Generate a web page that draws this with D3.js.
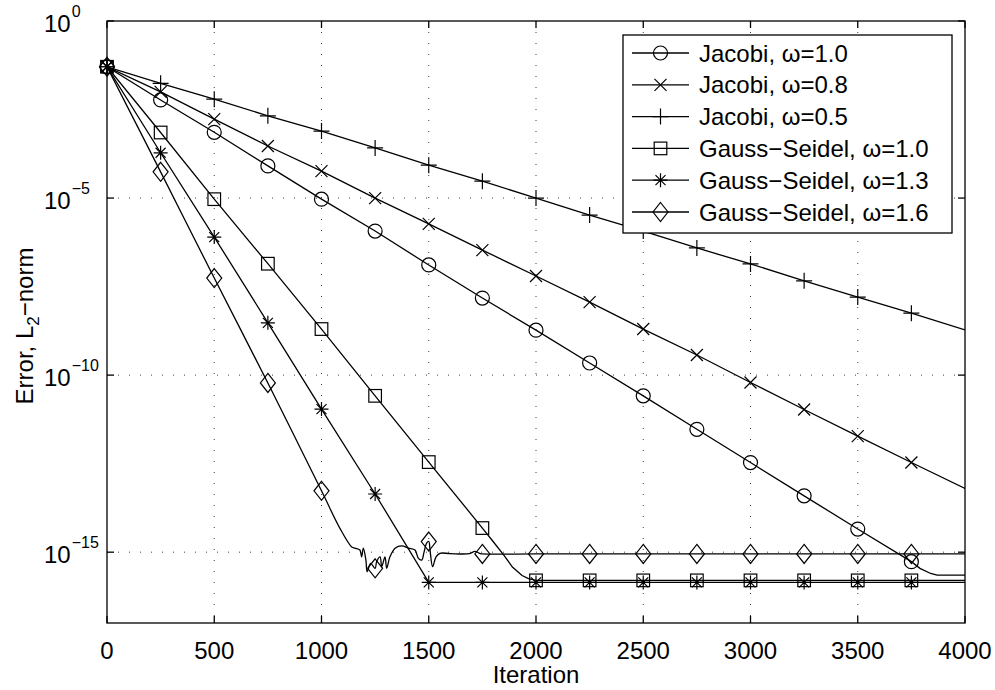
<!DOCTYPE html>
<html>
<head>
<meta charset="utf-8">
<script src="https://cdn.jsdelivr.net/npm/d3@7"></script>
<style>
  body { margin: 0; background: #fff; overflow: hidden; }
  svg { display: block; font-family: "Liberation Sans", Arial, Helvetica, sans-serif; }
</style>
</head>
<body>
<div id="chart"></div>
<script>
// ---- data: iteration number and L2 error of each run ----
const jacobi10It = [0, 250, 500, 750, 1000, 1250, 1500, 1750, 2000, 2250, 2500, 2750, 3000, 3250, 3500, 3750, 3790, 3840, 3870, 4000];
const jacobi10Err = [5.1e-2, 5.9e-3, 7.2e-4, 8.1e-5, 9.3e-6, 1.17e-6, 1.29e-7, 1.5e-8, 1.86e-9, 2.2e-10, 2.6e-11, 2.95e-12, 3.4e-13, 3.9e-14, 4.5e-15, 5.4e-16, 3.5e-16, 2.5e-16, 2.24e-16, 2.24e-16];

const jacobi08It = [0, 250, 500, 750, 1000, 1250, 1500, 1750, 2000, 2250, 2500, 2750, 3000, 3250, 3500, 3750, 4000];
const jacobi08Err = [5.1e-2, 1.0e-2, 1.7e-3, 2.95e-4, 5.75e-5, 1.0e-5, 1.86e-6, 3.4e-7, 6.3e-8, 1.15e-8, 2.0e-9, 3.7e-10, 6.2e-11, 1.07e-11, 1.9e-12, 3.4e-13, 6.3e-14];

const jacobi05It = [0, 250, 500, 750, 1000, 1250, 1500, 1750, 2000, 2250, 2500, 2750, 3000, 3250, 3500, 3750, 4000];
const jacobi05Err = [5.1e-2, 1.74e-2, 6.2e-3, 2.1e-3, 7.8e-4, 2.6e-4, 8.5e-5, 3.0e-5, 1.0e-5, 3.3e-6, 1.17e-6, 3.9e-7, 1.38e-7, 4.6e-8, 1.6e-8, 5.6e-9, 1.9e-9];

const gs10It = [0, 250, 500, 750, 1000, 1250, 1500, 1750, 1800, 1850, 1890, 1935, 1965, 2000, 2250, 2500, 2750, 3000, 3250, 3500, 3750, 4000];
const gs10Err = [5.1e-2, 7.1e-4, 9.3e-6, 1.4e-7, 2.0e-9, 2.6e-11, 3.5e-13, 4.8e-15, 2.0e-15, 8.3e-16, 3.8e-16, 2.2e-16, 1.8e-16, 1.6e-16, 1.6e-16, 1.6e-16, 1.6e-16, 1.6e-16, 1.6e-16, 1.6e-16, 1.6e-16, 1.6e-16];

const gs13It = [0, 250, 500, 750, 1000, 1250, 1500, 1750, 2000, 2250, 2500, 2750, 3000, 3250, 3500, 3750, 4000];
const gs13Err = [5.1e-2, 1.9e-4, 7.9e-7, 3.0e-9, 1.1e-11, 4.4e-14, 1.4e-16, 1.4e-16, 1.4e-16, 1.4e-16, 1.4e-16, 1.4e-16, 1.4e-16, 1.4e-16, 1.4e-16, 1.4e-16, 1.4e-16];

const gs16It = [0, 250, 500, 750, 1000, 1086, 1141, 1156, 1179, 1187, 1195, 1207, 1213, 1229, 1250, 1257, 1273, 1281, 1296, 1304, 1319, 1343, 1374, 1405, 1436, 1451, 1467, 1478, 1490, 1500, 1506, 1518, 1534, 1552, 1600, 1690, 1715, 1740, 1750, 2000, 2250, 2500, 2750, 3000, 3250, 3500, 3750, 4000];
const gs16Err = [5.1e-2, 5.5e-5, 5.5e-8, 6.0e-11, 5.4e-14, 4.7e-15, 1.4e-15, 1.3e-15, 1.15e-15, 7.4e-16, 1.3e-15, 6.0e-16, 2.8e-16, 4.8e-16, 3.5e-16, 5.4e-16, 7.4e-16, 3.9e-16, 7.4e-16, 3.5e-16, 7.4e-16, 1.3e-15, 1.5e-15, 1.3e-15, 1.15e-15, 6.8e-16, 6.0e-16, 1.0e-15, 1.8e-15, 2.0e-15, 1.15e-15, 3.9e-16, 7.4e-16, 9.3e-16, 9.1e-16, 9.1e-16, 1.05e-15, 9.1e-16, 8.9e-16, 8.9e-16, 8.9e-16, 8.9e-16, 8.9e-16, 8.9e-16, 8.9e-16, 8.9e-16, 8.9e-16, 8.9e-16];

const seriesNames = ["Jacobi, \u03c9=1.0", "Jacobi, \u03c9=0.8", "Jacobi, \u03c9=0.5",
                     "Gauss\u2212Seidel, \u03c9=1.0", "Gauss\u2212Seidel, \u03c9=1.3", "Gauss\u2212Seidel, \u03c9=1.6"];
const seriesMarkers = ["circle", "x", "plus", "square", "star", "diamond"];

const xTicks = [0, 500, 1000, 1500, 2000, 2500, 3000, 3500, 4000];
const yTicks = [1e0, 1e-5, 1e-10, 1e-15];
const yTickExp = ["0", "\u22125", "\u221210", "\u221215"];

const markerStep = 250;

// ---- layout ----
const width = 995, height = 690;
const padding = { top: 21, right: 30, bottom: 67, left: 107 };
const innerWidth = width - padding.left - padding.right;
const innerHeight = height - padding.top - padding.bottom;

const svg = d3.select("#chart").append("svg").attr("width", width).attr("height", height);

const xScale = d3.scaleLinear().domain([0, 4000]).range([0, innerWidth]);
const yScale = d3.scaleLog().domain([1e-17, 1]).range([innerHeight, 0]);

const g = svg.append("g").attr("transform", `translate(${padding.left},${padding.top})`);

g.append("defs").append("clipPath").attr("id", "plotclip")
    .append("rect").attr("width", innerWidth).attr("height", innerHeight);

// dotted grid
const grid = g.append("g").attr("stroke", "#000").attr("stroke-width", 1)
    .attr("stroke-dasharray", "1,10").attr("opacity", 0.75);
xTicks.slice(1, -1).forEach(t => {
    grid.append("line").attr("x1", xScale(t)).attr("x2", xScale(t))
        .attr("y1", 0).attr("y2", innerHeight);
});
yTicks.slice(1).forEach(t => {
    grid.append("line").attr("x1", 0).attr("x2", innerWidth)
        .attr("y1", yScale(t)).attr("y2", yScale(t));
});

// marker shapes
function drawMarker(sel, type) {
    const s = sel.append("g").attr("fill", "none").attr("stroke", "#000").attr("stroke-width", 1.2);
    if (type === "circle") {
        s.append("circle").attr("r", 7);
    } else if (type === "square") {
        s.append("rect").attr("x", -6.3).attr("y", -6.3).attr("width", 12.6).attr("height", 12.6);
    } else if (type === "diamond") {
        s.append("path").attr("d", "M0,-9.5L7.5,0L0,9.5L-7.5,0Z");
    } else if (type === "plus") {
        s.append("path").attr("d", "M-8,0H8M0,-8V8");
    } else if (type === "x") {
        s.append("path").attr("d", "M-6,-6L6,6M-6,6L6,-6");
    } else if (type === "star") {
        s.append("path").attr("d", "M-7,0H7M0,-7V7M-5,-5L5,5M-5,5L5,-5");
    }
}

const allIt = [jacobi10It, jacobi08It, jacobi05It, gs10It, gs13It, gs16It];
const allErr = [jacobi10Err, jacobi08Err, jacobi05Err, gs10Err, gs13Err, gs16Err];

const plot = g.append("g").attr("clip-path", "url(#plotclip)");

for (let j = 0; j < allIt.length; j++) {
    const pts = allIt[j].map((it, i) => [it, allErr[j][i]]);
    const line = d3.line()
        .x(d => xScale(d[0]))
        .y(d => yScale(d[1]))
        .curve(j === 5 ? d3.curveCatmullRom.alpha(0.5) : d3.curveLinear);
    plot.append("path").datum(pts)
        .attr("d", line)
        .attr("fill", "none")
        .attr("stroke", "#000")
        .attr("stroke-width", 1.3);

    pts.filter(d => d[0] % markerStep === 0 && d[0] < 4000).forEach(d => {
        const m = g.append("g").attr("transform", `translate(${xScale(d[0])},${yScale(d[1])})`);
        drawMarker(m, seriesMarkers[j]);
    });
}

// axes box and inward ticks
const frame = g.append("g").attr("stroke", "#000").attr("stroke-width", 1.3);
frame.append("rect").attr("width", innerWidth).attr("height", innerHeight).attr("fill", "none");
const tickLen = 7;
xTicks.forEach(t => {
    frame.append("line").attr("x1", xScale(t)).attr("x2", xScale(t)).attr("y1", innerHeight).attr("y2", innerHeight - tickLen);
    frame.append("line").attr("x1", xScale(t)).attr("x2", xScale(t)).attr("y1", 0).attr("y2", tickLen);
});
yTicks.forEach(t => {
    frame.append("line").attr("x1", 0).attr("x2", tickLen).attr("y1", yScale(t)).attr("y2", yScale(t));
    frame.append("line").attr("x1", innerWidth).attr("x2", innerWidth - tickLen).attr("y1", yScale(t)).attr("y2", yScale(t));
});

// tick labels
const fontSize = 24;
g.append("g").selectAll("text").data(xTicks).enter().append("text")
    .attr("x", d => xScale(d))
    .attr("y", innerHeight + 36)
    .attr("text-anchor", "middle")
    .attr("font-size", fontSize)
    .text(d => d);

const yLab = g.append("g").selectAll("text").data(yTicks).enter().append("text")
    .attr("x", 44 - padding.left)
    .attr("y", d => yScale(d) + 11)
    .attr("font-size", fontSize);
yLab.append("tspan").text("10");
yLab.append("tspan").attr("dx", 1).attr("dy", -15).attr("font-size", 16).text((d, i) => yTickExp[i]);

// axis titles
svg.append("text")
    .attr("x", padding.left + innerWidth / 2)
    .attr("y", height - 7)
    .attr("text-anchor", "middle")
    .attr("font-size", fontSize)
    .text("Iteration");

const yTitle = svg.append("text")
    .attr("transform", `translate(33,326) rotate(-90)`)
    .attr("text-anchor", "middle")
    .attr("font-size", fontSize);
yTitle.append("tspan").text("Error, L");
yTitle.append("tspan").attr("dy", 6).attr("font-size", 17).text("2");
yTitle.append("tspan").attr("dy", -6).text("\u2212norm");

// legend
const lgX = 623 - padding.left, lgY = 35 - padding.top, lgW = 329, lgH = 198, rowH = 31.8;
const legend = g.append("g").attr("transform", `translate(${lgX},${lgY})`);
legend.append("rect").attr("width", lgW).attr("height", lgH)
    .attr("fill", "#fff").attr("stroke", "#000").attr("stroke-width", 1.3);
seriesNames.forEach((name, i) => {
    const cy = 18 + i * rowH;
    legend.append("line").attr("x1", 9).attr("x2", 66).attr("y1", cy).attr("y2", cy)
        .attr("stroke", "#000").attr("stroke-width", 1.3);
    const m = legend.append("g").attr("transform", `translate(37.5,${cy})`);
    drawMarker(m, seriesMarkers[i]);
    legend.append("text").attr("x", 76).attr("y", cy + 8.5)
        .attr("font-size", fontSize).text(name);
});
</script>
</body>
</html>
